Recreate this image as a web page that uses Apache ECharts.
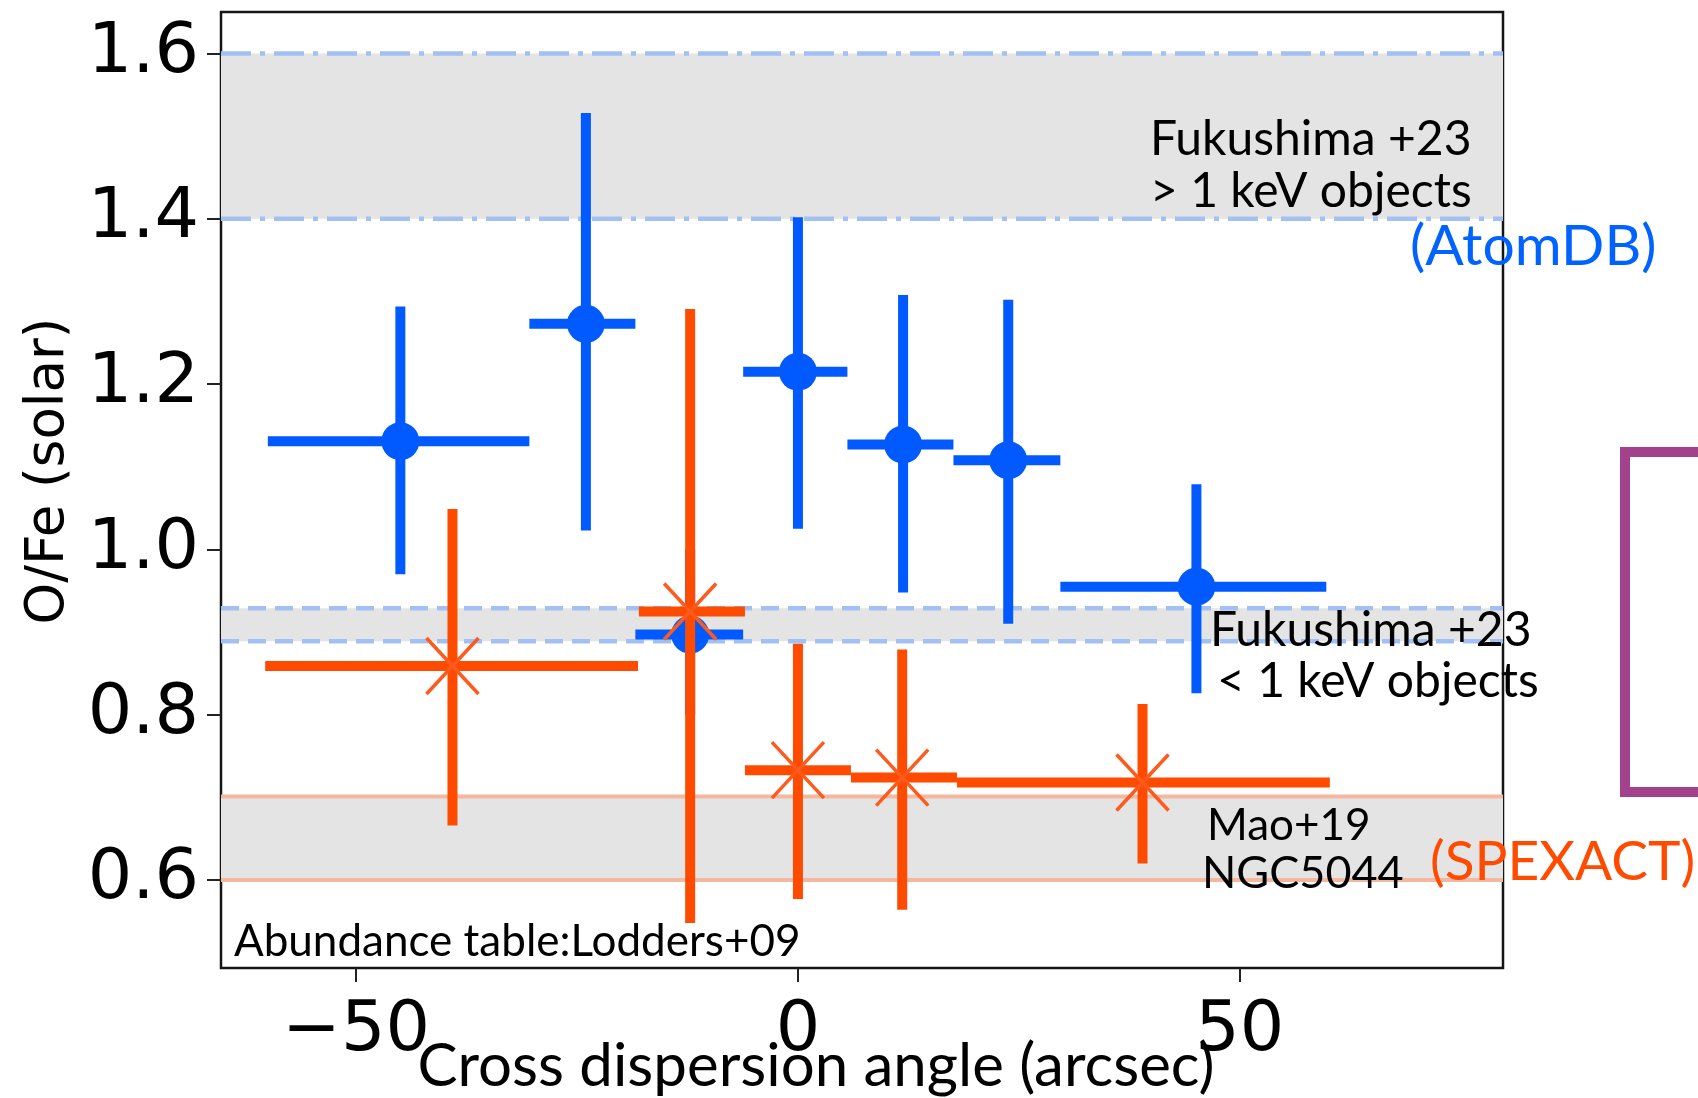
<!DOCTYPE html>
<html>
<head>
<meta charset="utf-8">
<script src="https://cdn.jsdelivr.net/npm/echarts@6/dist/echarts.min.js"></script>
<style>
html,body{margin:0;padding:0;background:#fff;}
#chart{width:1698px;height:1098px;}
</style>
</head>
<body>
<div id="chart"></div>
<script>
// ---- data (AtomDB, blue) ----
const blueX    = [-45.0, -24.0, -12.2, 0.0, 11.9, 23.8, 45.1];
const blueY    = [1.131, 1.273, 0.897, 1.215, 1.127, 1.108, 0.955];
const blueXLo  = [-60.0, -30.4, -18.4, -6.2, 5.6, 17.6, 29.7];
const blueXHi  = [-30.4, -18.4, -6.2, 5.6, 17.6, 29.7, 59.8];
const blueYLo  = [0.970, 1.023, 0.800, 1.025, 0.948, 0.910, 0.826];
const blueYHi  = [1.294, 1.528, 1.000, 1.402, 1.308, 1.302, 1.079];
// ---- data (SPEXACT, orange) ----
const orangeX   = [-39.1, -12.2, 0.0, 11.8, 39.0];
const orangeY   = [0.859, 0.925, 0.733, 0.724, 0.718];
const orangeXLo = [-60.3, -18.0, -6.0, 6.0, 18.0];
const orangeXHi = [-18.1, -6.0, 6.0, 18.0, 60.2];
const orangeYLo = [0.666, 0.548, 0.577, 0.564, 0.620];
const orangeYHi = [1.049, 1.291, 0.886, 0.879, 0.813];
// ---- reference bands ----
const bandLo = [1.40, 0.889, 0.600];
const bandHi = [1.60, 0.929, 0.701];
// ---- axes ----
const xTicks = [-50, 0, 50];
const yTicks = [0.6, 0.8, 1.0, 1.2, 1.4, 1.6];
const xRange = [-65.3, 79.8];
const yRange = [0.4936, 1.6503];

const BLUE = '#005AFF', ORANGE = '#FF4B00';

function rows(xs, ys, xl, xh, yl, yh) {
  return xs.map((x, i) => [x, ys[i], xl[i], xh[i], yl[i], yh[i]]);
}

function errRender(kind) {
  const col = kind === 'blue' ? BLUE : ORANGE;
  return function (params, api) {
    const x = api.value(0), y = api.value(1);
    const c = api.coord([x, y]);
    const l = api.coord([api.value(2), y]);
    const r = api.coord([api.value(3), y]);
    const b = api.coord([x, api.value(4)]);
    const t = api.coord([x, api.value(5)]);
    const st = { stroke: col, lineWidth: 10, lineCap: 'butt' };
    const children = [
      { type: 'line', shape: { x1: l[0], y1: l[1], x2: r[0], y2: r[1] }, style: st },
      { type: 'line', shape: { x1: b[0], y1: b[1], x2: t[0], y2: t[1] }, style: st }
    ];
    if (kind === 'blue') {
      children.push({ type: 'circle', shape: { cx: c[0], cy: c[1], r: 19 }, style: { fill: col } });
    } else {
      const dx = 26, dy = 28;
      const ms = { stroke: '#ff5a1e', lineWidth: 3.5 };
      children.push({ type: 'line', shape: { x1: c[0] - dx, y1: c[1] - dy, x2: c[0] + dx, y2: c[1] + dy }, style: ms });
      children.push({ type: 'line', shape: { x1: c[0] - dx, y1: c[1] + dy, x2: c[0] + dx, y2: c[1] - dy }, style: ms });
    }
    return { type: 'group', children: children };
  };
}

function bandRender(params, api) {
  const cs = params.coordSys;
  const i = params.dataIndex;
  const yl = api.coord([xRange[0], api.value(0)])[1];
  const yh = api.coord([xRange[0], api.value(1)])[1];
  let lineStyle;
  if (i === 0) lineStyle = { stroke: '#a3c0f3', lineWidth: 4.5, lineDash: [30, 9, 5, 9] };
  else if (i === 1) lineStyle = { stroke: '#a3c0f3', lineWidth: 4.5, lineDash: [18, 9] };
  else lineStyle = { stroke: '#f4b7a0', lineWidth: 4 };
  return {
    type: 'group',
    children: [
      { type: 'rect', shape: { x: cs.x, y: yh, width: cs.width, height: yl - yh }, style: { fill: '#e4e4e4' } },
      { type: 'line', shape: { x1: cs.x, y1: yh, x2: cs.x + cs.width, y2: yh }, style: lineStyle },
      { type: 'line', shape: { x1: cs.x, y1: yl, x2: cs.x + cs.width, y2: yl }, style: lineStyle }
    ]
  };
}

const tickFont = { fontFamily: 'DejaVu Sans', fontSize: 70, color: '#000' };
const noteFont = 'Lato';

function note(text, x, y, size, color) {
  return {
    type: 'text', x: x, y: y, z: 100,
    style: { text: text, fontFamily: noteFont, fontSize: size, fill: color || '#000', textAlign: 'left', textVerticalAlign: 'middle' }
  };
}

const chart = echarts.init(document.getElementById('chart'), null, { renderer: 'canvas' });
chart.setOption({
  animation: false,
  backgroundColor: '#fff',
  grid: { left: 221, right: 195, top: 12, bottom: 130, containLabel: false, outerBoundsMode: 'none',
          show: true, borderColor: '#151515', borderWidth: 2.5, backgroundColor: 'transparent' },
  xAxis: {
    type: 'value', min: xRange[0], max: xRange[1],
    name: 'Cross dispersion angle (arcsec)', nameLocation: 'middle', nameGap: 69, nameMoveOverlap: false,
    nameTextStyle: { fontFamily: noteFont, fontSize: 60, color: '#000', padding: [0, 92, 0, 0] },
    axisLine: { show: false, onZero: false },
    splitLine: { show: false },
    axisTick: { show: true, length: 14, customValues: xTicks, lineStyle: { color: '#222', width: 2 } },
    axisLabel: Object.assign({ customValues: xTicks, margin: 29, formatter: v => String(v).replace('-', '\u2212') }, tickFont)
  },
  yAxis: {
    type: 'value', min: yRange[0], max: yRange[1],
    name: 'O/Fe (solar)', nameLocation: 'middle', nameGap: 145, nameRotate: 90, nameMoveOverlap: false,
    nameTextStyle: { fontFamily: 'DejaVu Sans', fontSize: 53, color: '#000', padding: [0, 0, 0, 38] },
    axisLine: { show: false, onZero: false },
    splitLine: { show: false },
    axisTick: { show: true, length: 14, customValues: yTicks, lineStyle: { color: '#222', width: 2 } },
    axisLabel: Object.assign({ customValues: yTicks, margin: 22, formatter: v => Number(v).toFixed(1) }, tickFont)
  },
  series: [
    { type: 'custom', name: 'bands', z: 1, silent: true, clip: true, renderItem: bandRender,
      data: bandLo.map((lo, i) => [lo, bandHi[i]]), encode: { y: [0, 1] } },
    { type: 'custom', name: 'AtomDB', z: 3, clip: false, renderItem: errRender('blue'),
      data: rows(blueX, blueY, blueXLo, blueXHi, blueYLo, blueYHi), encode: { x: [0, 2, 3], y: [1, 4, 5] } },
    { type: 'custom', name: 'SPEXACT', z: 4, clip: false, renderItem: errRender('orange'),
      data: rows(orangeX, orangeY, orangeXLo, orangeXHi, orangeYLo, orangeYHi), encode: { x: [0, 2, 3], y: [1, 4, 5] } }
  ],
  graphic: [
    note('Fukushima +23', 1150, 140, 48),
    note('> 1 keV objects', 1150, 192, 48),
    note('(AtomDB)', 1410, 247, 57, '#0062FF'),
    note('Fukushima +23', 1210, 631, 48),
    note('< 1 keV objects', 1217, 682, 48),
    note('Mao+19', 1207, 826, 44),
    note('NGC5044', 1202, 873, 45),
    note('(SPEXACT)', 1430, 862, 55, ORANGE),
    note('Abundance table:Lodders+09', 234, 942, 44),
    { type: 'rect', z: 100, shape: { x: 1625, y: 452, width: 200, height: 340 },
      style: { fill: 'none', stroke: '#a4418c', lineWidth: 10 } }
  ]
});
</script>
</body>
</html>
